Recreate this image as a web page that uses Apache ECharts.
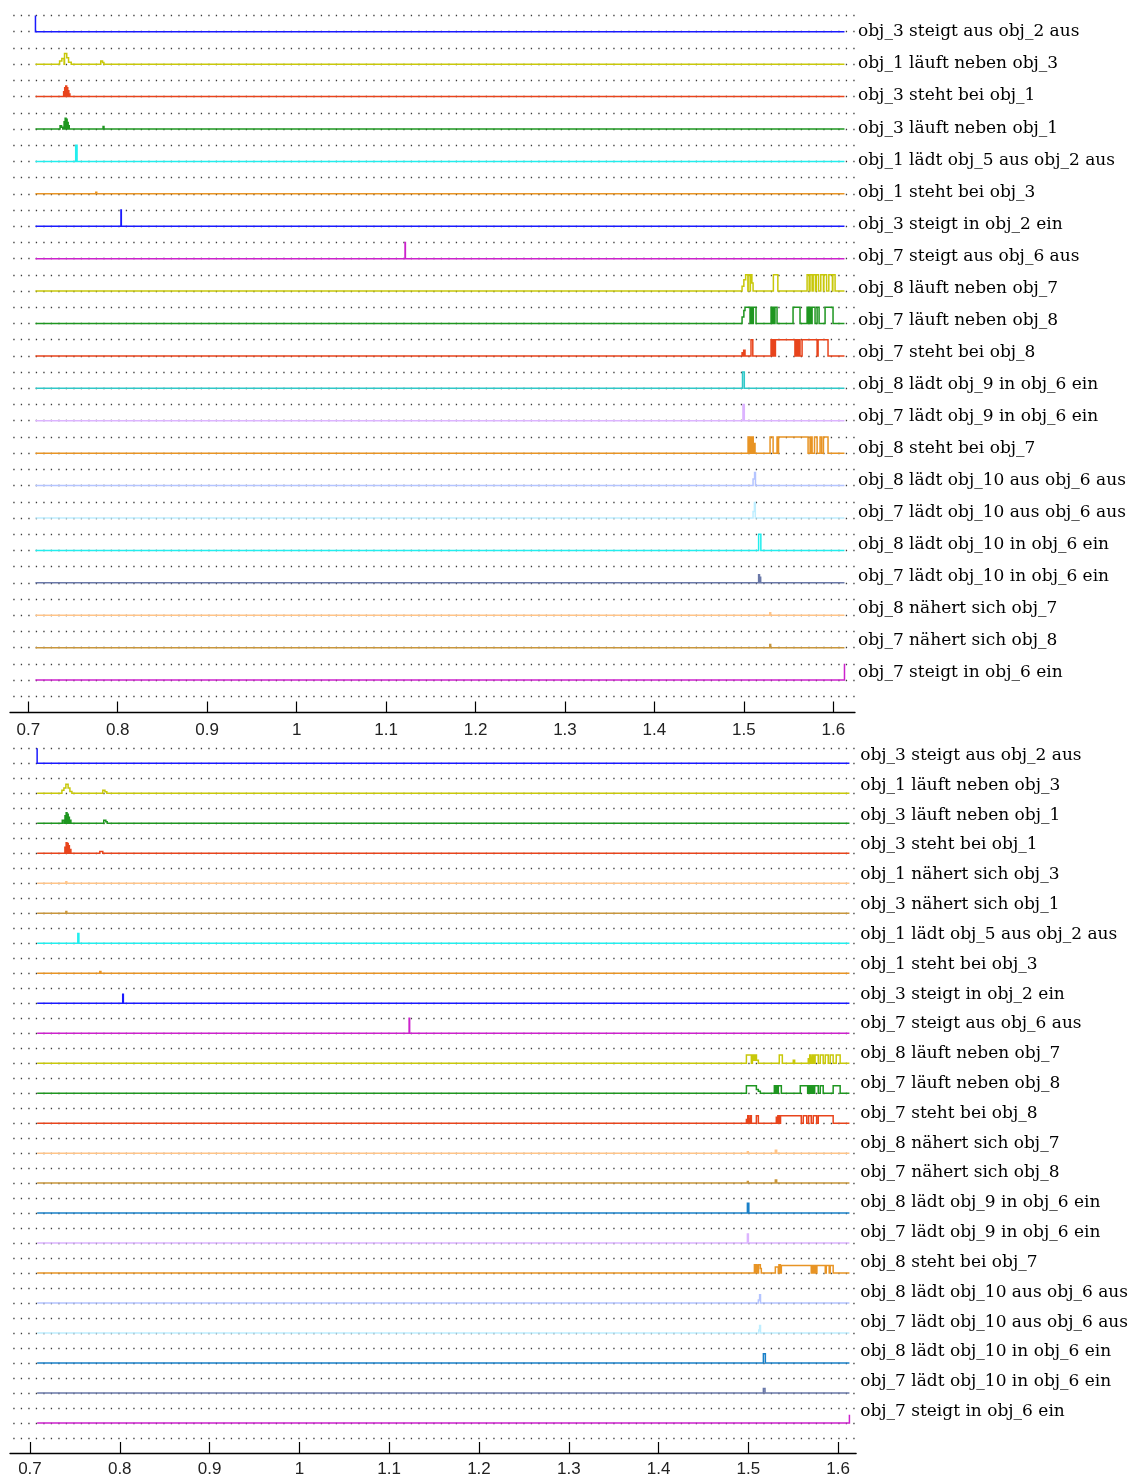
<!DOCTYPE html>
<html><head><meta charset="utf-8">
<script src="https://cdn.jsdelivr.net/npm/echarts@6/dist/echarts.min.js"></script>
<style>html,body{margin:0;padding:0;background:#fff}#c{width:1131px;height:1478px}</style>
</head><body><div id="c"></div>
<script>
// ---- data ----
const xStart = 0.708, xEnd = 1.6125;
const xTicks = [0.7, 0.8, 0.9, 1.0, 1.1, 1.2, 1.3, 1.4, 1.5, 1.6];
const xTickLabels = ['0.7', '0.8', '0.9', '1', '1.1', '1.2', '1.3', '1.4', '1.5', '1.6'];

const topLabels = ['obj_3 steigt aus obj_2 aus','obj_1 läuft neben obj_3','obj_3 steht bei obj_1','obj_3 läuft neben obj_1','obj_1 lädt obj_5 aus obj_2 aus','obj_1 steht bei obj_3','obj_3 steigt in obj_2 ein','obj_7 steigt aus obj_6 aus','obj_8 läuft neben obj_7','obj_7 läuft neben obj_8','obj_7 steht bei obj_8','obj_8 lädt obj_9 in obj_6 ein','obj_7 lädt obj_9 in obj_6 ein','obj_8 steht bei obj_7','obj_8 lädt obj_10 aus obj_6 aus','obj_7 lädt obj_10 aus obj_6 aus','obj_8 lädt obj_10 in obj_6 ein','obj_7 lädt obj_10 in obj_6 ein','obj_8 nähert sich obj_7','obj_7 nähert sich obj_8','obj_7 steigt in obj_6 ein'];

const bottomLabels = ['obj_3 steigt aus obj_2 aus','obj_1 läuft neben obj_3','obj_3 läuft neben obj_1','obj_3 steht bei obj_1','obj_1 nähert sich obj_3','obj_3 nähert sich obj_1','obj_1 lädt obj_5 aus obj_2 aus','obj_1 steht bei obj_3','obj_3 steigt in obj_2 ein','obj_7 steigt aus obj_6 aus','obj_8 läuft neben obj_7','obj_7 läuft neben obj_8','obj_7 steht bei obj_8','obj_8 nähert sich obj_7','obj_7 nähert sich obj_8','obj_8 lädt obj_9 in obj_6 ein','obj_7 lädt obj_9 in obj_6 ein','obj_8 steht bei obj_7','obj_8 lädt obj_10 aus obj_6 aus','obj_7 lädt obj_10 aus obj_6 aus','obj_8 lädt obj_10 in obj_6 ein','obj_7 lädt obj_10 in obj_6 ein','obj_7 steigt in obj_6 ein'];

// pulses per row: [start, end, level 0..1]
const topSignals = [
  [[0.7080,0.7080,1]],
  [[0.7350,0.7375,0.2],[0.7375,0.7400,0.35],[0.7405,0.7430,0.66],[0.7430,0.7450,0.4],[0.7450,0.7480,0.12],[0.7810,0.7830,0.2],[0.7830,0.7845,0.1]],
  [[0.7395,0.7405,0.3],[0.7407,0.7417,0.55],[0.7419,0.7429,0.65],[0.7431,0.7441,0.55],[0.7443,0.7453,0.35],[0.7455,0.7465,0.15]],
  [[0.7355,0.7372,0.2],[0.7372,0.7385,0.1],[0.7400,0.7410,0.45],[0.7412,0.7422,0.66],[0.7424,0.7434,0.6],[0.7436,0.7446,0.4],[0.7448,0.7458,0.2],[0.7836,0.7846,0.15]],
  [[0.7530,0.7545,1]],
  [[0.7755,0.7765,0.1]],
  [[0.8036,0.8040,1]],
  [[1.1212,1.1216,1]],
  [[1.4980,1.5000,0.3],[1.5000,1.5020,0.7],[1.5020,1.5045,1],[1.5048,1.5070,1],[1.5073,1.5090,1],[1.5090,1.5103,0.5],[1.5330,1.5380,1],[1.5707,1.5730,1],[1.5740,1.5763,1],[1.5775,1.5800,1],[1.5810,1.5835,1],[1.5860,1.5890,1],[1.5895,1.5925,1],[1.5950,1.5990,1],[1.5995,1.6020,1]],
  [[1.4980,1.5000,0.4],[1.5000,1.5013,0.8],[1.5013,1.5069,1],[1.5072,1.5080,1],[1.5083,1.5091,1],[1.5094,1.5103,1],[1.5106,1.5136,1],[1.5304,1.5315,1],[1.5318,1.5330,1],[1.5333,1.5345,1],[1.5348,1.5371,1],[1.5550,1.5628,1],[1.5707,1.5720,1],[1.5723,1.5740,1],[1.5743,1.5760,1],[1.5763,1.5796,1],[1.5819,1.5841,1],[1.5908,1.5997,1]],
  [[1.4980,1.4995,0.2],[1.4998,1.5013,0.35],[1.5080,1.5100,1],[1.5304,1.5315,1],[1.5318,1.5330,1],[1.5333,1.5350,1],[1.5353,1.5571,1],[1.5575,1.5590,1],[1.5593,1.5610,1],[1.5613,1.5628,1],[1.5651,1.5819,1],[1.5830,1.5941,1]],
  [[1.4985,1.5005,1]],
  [[1.4990,1.5005,1]],
  [[1.5047,1.5060,1],[1.5063,1.5075,1],[1.5078,1.5090,1],[1.5093,1.5105,1],[1.5108,1.5125,0.6],[1.5293,1.5327,1],[1.5371,1.5385,1],[1.5388,1.5718,1],[1.5740,1.5750,1],[1.5753,1.5763,1],[1.5790,1.5819,1],[1.5852,1.5870,1],[1.5890,1.5941,1]],
  [[1.5103,1.5120,0.4],[1.5120,1.5130,0.8]],
  [[1.5103,1.5118,0.4],[1.5118,1.5128,0.95]],
  [[1.5165,1.5190,1]],
  [[1.5165,1.5175,0.5],[1.5178,1.5188,0.35]],
  [[1.5290,1.5300,0.15]],
  [[1.5290,1.5300,0.2]],
  [[1.6125,1.6125,1]]
];

const bottomSignals = [
  [[0.7080,0.7080,1]],
  [[0.7356,0.7378,0.2],[0.7378,0.7400,0.35],[0.7400,0.7425,0.6],[0.7425,0.7445,0.35],[0.7445,0.7467,0.12],[0.7811,0.7835,0.2],[0.7835,0.7856,0.1]],
  [[0.7360,0.7378,0.2],[0.7390,0.7400,0.5],[0.7403,0.7413,0.7],[0.7416,0.7426,0.6],[0.7429,0.7439,0.4],[0.7442,0.7456,0.2],[0.7822,0.7845,0.2],[0.7845,0.7860,0.1]],
  [[0.7389,0.7400,0.4],[0.7403,0.7413,0.7],[0.7416,0.7426,0.65],[0.7429,0.7439,0.5],[0.7442,0.7456,0.25],[0.7778,0.7811,0.12]],
  [[0.7400,0.7410,0.1]],
  [[0.7400,0.7410,0.12]],
  [[0.7533,0.7545,0.65]],
  [[0.7778,0.7790,0.12]],
  [[0.8033,0.8040,0.6]],
  [[1.1222,1.1228,1]],
  [[1.4978,1.5033,0.55],[1.5045,1.5060,0.55],[1.5060,1.5075,0.2],[1.5075,1.5090,0.55],[1.5090,1.5111,0.2],[1.5344,1.5378,0.55],[1.5500,1.5515,0.2],[1.5667,1.5680,0.3],[1.5683,1.5695,0.55],[1.5698,1.5710,0.4],[1.5713,1.5725,0.55],[1.5728,1.5740,0.55],[1.5743,1.5778,0.55],[1.5800,1.5833,0.55],[1.5856,1.5889,0.55],[1.5911,1.5944,0.55],[1.5978,1.6022,0.55]],
  [[1.4978,1.5089,0.5],[1.5089,1.5111,0.25],[1.5111,1.5133,0.12],[1.5289,1.5300,0.5],[1.5303,1.5315,0.5],[1.5318,1.5330,0.5],[1.5333,1.5367,0.5],[1.5578,1.5660,0.5],[1.5663,1.5675,0.5],[1.5678,1.5689,0.5],[1.5700,1.5715,0.5],[1.5718,1.5735,0.5],[1.5738,1.5778,0.5],[1.5800,1.5833,0.5],[1.5944,1.6022,0.5]],
  [[1.4978,1.4990,0.25],[1.4993,1.5005,0.5],[1.5008,1.5020,0.3],[1.5023,1.5033,0.5],[1.5089,1.5111,0.5],[1.5311,1.5325,0.4],[1.5328,1.5340,0.5],[1.5343,1.5355,0.5],[1.5358,1.5589,0.5],[1.5611,1.5650,0.5],[1.5670,1.5700,0.5],[1.5722,1.5760,0.5],[1.5778,1.5944,0.5]],
  [[1.4989,1.4999,0.1],[1.5300,1.5315,0.2]],
  [[1.4989,1.4999,0.1],[1.5300,1.5315,0.2]],
  [[1.4989,1.5005,0.65]],
  [[1.4989,1.5000,0.6]],
  [[1.5067,1.5080,0.55],[1.5083,1.5095,0.55],[1.5098,1.5110,0.5],[1.5113,1.5133,0.55],[1.5133,1.5144,0.3],[1.5300,1.5333,0.4],[1.5340,1.5356,0.55],[1.5367,1.5700,0.5],[1.5703,1.5715,0.5],[1.5718,1.5730,0.5],[1.5733,1.5745,0.5],[1.5748,1.5760,0.5],[1.5763,1.5856,0.5],[1.5867,1.5900,0.5],[1.5911,1.5944,0.5]],
  [[1.5111,1.5125,0.2],[1.5125,1.5135,0.55]],
  [[1.5115,1.5125,0.2],[1.5125,1.5135,0.5]],
  [[1.5167,1.5189,0.62]],
  [[1.5167,1.5185,0.3]],
  [[1.6125,1.6125,0.55]]
];

// ---- styles ----
const C = {
  blue:'#1a1aff', yellow:'#c8c80a', red:'#e8441c', green:'#1e9620', cyan:'#22eeee',
  orange:'#e89424', magenta:'#cc22cc', teal:'#30c8c8', steel:'#1a80c8', lavender:'#dcb4ff',
  lblue:'#b4c4ff', lcyan:'#bfeeff', slate:'#6a78a8', peach:'#ffc488', gold:'#c8963c'
};
const topColors = [C.blue,C.yellow,C.red,C.green,C.cyan,C.orange,C.blue,C.magenta,C.yellow,C.green,C.red,C.teal,C.lavender,C.orange,C.lblue,C.lcyan,C.cyan,C.slate,C.peach,C.gold,C.magenta];
const bottomColors = [C.blue,C.yellow,C.green,C.red,C.peach,C.gold,C.cyan,C.orange,C.blue,C.magenta,C.yellow,C.green,C.red,C.peach,C.gold,C.steel,C.lavender,C.orange,C.lblue,C.lcyan,C.steel,C.slate,C.magenta];

function buildPoints(row, pulses) {
  const pts = [[xStart, row]];
  let prevEnd = null;
  pulses.forEach(p => {
    const y = row - 0.5 * p[2];
    if (prevEnd !== null && Math.abs(p[0] - prevEnd) < 1e-9) {
      pts.pop();
      pts.push([p[0], y], [p[1], y], [p[1], row]);
    } else {
      pts.push([p[0], row], [p[0], y], [p[1], y], [p[1], row]);
    }
    prevEnd = p[1];
  });
  pts.push([xEnd, row]);
  return pts;
}

const dotted = {color:'#3a3a3a', width:1.3, type:[1.3, 6.2], dashOffset:4.2};

function xAxisCfg(gi, min, max, margin) {
  return {
    gridIndex: gi, type:'value', min:min, max:max,
    axisLine:{show:true, onZero:false, lineStyle:{color:'#000', width:1.3}},
    axisTick:{show:true, inside:true, length:11, customValues:xTicks, lineStyle:{color:'#000', width:1.2}},
    axisLabel:{show:true, customValues:xTicks, margin:margin, fontFamily:'Liberation Sans', fontSize:17, color:'#222',
      formatter: v => { const i = xTicks.findIndex(t => Math.abs(t - v) < 1e-6); return i >= 0 ? xTickLabels[i] : ''; }},
    splitLine:{show:false}
  };
}
function dataY(gi, maxRow) {
  return {
    gridIndex: gi, type:'value', inverse:true, min:-0.5, max:maxRow + 1, interval:0.5,
    axisLine:{show:false}, axisTick:{show:false}, axisLabel:{show:false},
    splitLine:{show:true, showMinLine:true, showMaxLine:false, lineStyle:dotted}
  };
}
function labelY(gi, min, max, labels, margin) {
  return {
    gridIndex: gi, type:'value', inverse:true, min:min, max:max, position:'right',
    axisLine:{show:false}, axisTick:{show:false}, splitLine:{show:false},
    axisLabel:{show:true, customValues: labels.map((_, i) => i), margin: margin,
      fontFamily:'DejaVu Serif', fontSize:17, color:'#000',
      formatter: v => labels[Math.round(v)] || ''}
  };
}

function signalSeries(xi, yi, signals, colors) {
  return {
    type:'custom', coordinateSystem:'cartesian2d', xAxisIndex:xi, yAxisIndex:yi,
    silent:true, animation:false, z:3,
    data: signals.map((_, i) => [xStart, i]),
    renderItem: (params, api) => {
      const row = params.dataIndex;
      const pts = buildPoints(row, signals[row]).map(p => api.coord(p));
      return {type:'polyline', shape:{points: pts},
        style:{stroke: colors[row], lineWidth:1.5, fill:null, lineJoin:'miter'}};
    }
  };
}

const chart = echarts.init(document.getElementById('c'), null, {renderer:'canvas'});
chart.setOption({
  animation:false,
  backgroundColor:'#fff',
  grid:[{left:10, top:15.5, width:845, height:697}, {left:10, top:748.3, width:848, height:705}],
  xAxis:[xAxisCfg(0, 0.67954, 1.62426, 9), xAxisCfg(1, 0.67778, 1.62, 8)],
  yAxis:[
    dataY(0, topLabels.length - 1),
    labelY(0, -0.5151, 21.246, topLabels, 3),
    dataY(1, bottomLabels.length - 1),
    labelY(1, -0.2413, 23.385, bottomLabels, 4)
  ],
  series:[
    signalSeries(0, 0, topSignals, topColors),
    signalSeries(1, 2, bottomSignals, bottomColors)
  ]
});
</script></body></html>
